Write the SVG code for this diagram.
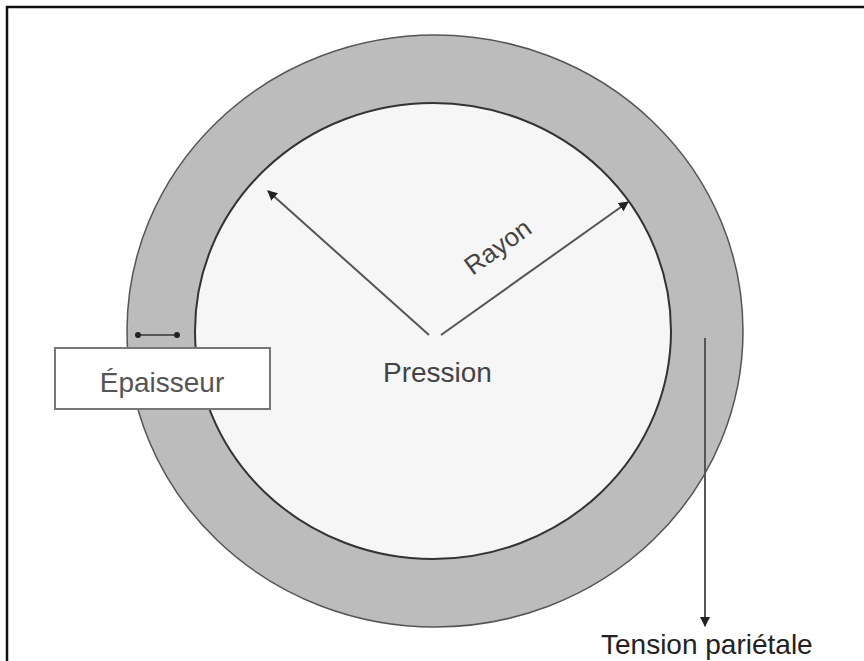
<svg xmlns="http://www.w3.org/2000/svg" width="864" height="661" viewBox="0 0 864 661">
<style>
  .lbl { font-family: "Liberation Sans", Arial, sans-serif; font-size: 28px; }
  .conn { stroke: #555; stroke-width: 2; fill: none; }
</style>
<defs>
  <marker id="ah" viewBox="0 0 10 10" refX="9" refY="5" markerWidth="5" markerHeight="5" orient="auto" markerUnits="strokeWidth">
    <path d="M0,0 L10,5 L0,10 z" fill="#222"/>
  </marker>
</defs>
<rect x="0" y="0" width="864" height="661" fill="#ffffff"/>
<g id="frame">
  <path d="M7,661 L7,7 L864,7" fill="none" stroke="#111" stroke-width="2.5"/>
</g>
<g id="wall">
  <ellipse cx="435" cy="331" rx="308" ry="296" fill="#bcbcbc" stroke="#555" stroke-width="1.5"/>
  <ellipse cx="433" cy="331" rx="238" ry="228" fill="#f6f6f6" stroke="#333" stroke-width="2"/>
</g>
<g id="connectors">
  <line class="conn" x1="429" y1="335" x2="268" y2="191" marker-end="url(#ah)"/>
  <line class="conn" x1="441" y1="335" x2="628" y2="202" marker-end="url(#ah)"/>
  <line class="conn" x1="705" y1="338" x2="705" y2="626" marker-end="url(#ah)"/>
  <line class="conn" x1="137" y1="335" x2="177" y2="335" stroke="#333"/>
  <circle cx="138" cy="335" r="3" fill="#222"/>
  <circle cx="177" cy="335" r="3" fill="#222"/>
</g>
<g id="epaisseur">
  <rect x="55" y="348" width="215" height="61" fill="#ffffff" stroke="#777" stroke-width="2"/>
  <text class="lbl" x="162" y="392" text-anchor="middle" fill="#555">Épaisseur</text>
</g>
<g id="pression">
  <text class="lbl" x="383" y="382" fill="#444">Pression</text>
</g>
<g id="rayon">
  <text class="lbl" transform="translate(503,254) rotate(-36)" text-anchor="middle" fill="#444" style="font-size:26px">Rayon</text>
</g>
<g id="tension">
  <text class="lbl" x="601" y="654" fill="#222">Tension pariétale</text>
</g>
</svg>
